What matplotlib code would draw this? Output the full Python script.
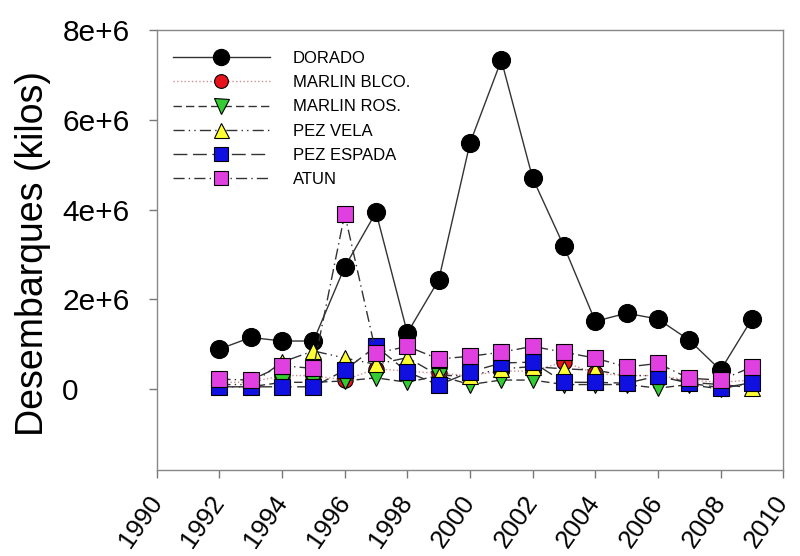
import matplotlib
matplotlib.use("Agg")
import matplotlib.pyplot as plt
import matplotlib.transforms as mtransforms

plt.rcParams['font.family'] = ['Liberation Sans', 'DejaVu Sans']

years = list(range(1992, 2010))
dorado = [0.89e6, 1.15e6, 1.07e6, 1.07e6, 2.72e6, 3.94e6, 1.25e6, 2.43e6, 5.48e6,
          7.33e6, 4.70e6, 3.18e6, 1.51e6, 1.69e6, 1.56e6, 1.09e6, 0.42e6, 1.56e6]
marlin_blco = [0.15e6, 0.15e6, 0.30e6, 0.30e6, 0.20e6, 0.45e6, 0.40e6, 0.35e6, 0.30e6,
               0.40e6, 0.40e6, 0.60e6, 0.35e6, 0.30e6, 0.30e6, 0.20e6, 0.15e6, 0.20e6]
marlin_ros = [0.05e6, 0.05e6, 0.15e6, 0.15e6, 0.18e6, 0.25e6, 0.15e6, 0.30e6, 0.10e6,
              0.20e6, 0.20e6, 0.10e6, 0.10e6, 0.10e6, 0.02e6, 0.10e6, 0.00e6, 0.15e6]
pez_vela = [0.10e6, 0.10e6, 0.60e6, 0.85e6, 0.69e6, 0.55e6, 0.70e6, 0.30e6, 0.30e6,
            0.45e6, 0.50e6, 0.45e6, 0.42e6, 0.30e6, 0.30e6, 0.15e6, 0.10e6, 0.03e6]
pez_espada = [0.05e6, 0.05e6, 0.05e6, 0.05e6, 0.42e6, 0.95e6, 0.38e6, 0.09e6, 0.38e6,
              0.58e6, 0.60e6, 0.15e6, 0.15e6, 0.13e6, 0.29e6, 0.13e6, 0.03e6, 0.13e6]
atun = [0.22e6, 0.20e6, 0.52e6, 0.46e6, 3.90e6, 0.80e6, 0.95e6, 0.67e6, 0.73e6,
        0.82e6, 0.95e6, 0.82e6, 0.69e6, 0.49e6, 0.57e6, 0.24e6, 0.20e6, 0.49e6]

labels = ['DORADO', 'MARLIN BLCO.', 'MARLIN ROS.', 'PEZ VELA', 'PEZ ESPADA', 'ATUN']
xticks = list(range(1990, 2011, 2))
yticks = [0, 2e6, 4e6, 6e6, 8e6]
yticklabels = ['0', '2e+6', '4e+6', '6e+6', '8e+6']

fig = plt.figure(figsize=(8, 5.56), dpi=100)
ax = fig.add_axes([0.196, 0.155, 0.783, 0.791])

series = [
    (dorado, 'o', 'black', '-', '#333333', 13),
    (marlin_blco, 'o', '#e8121a', ':', '#d09090', 11),
    (marlin_ros, 'v', '#33cc33', (0, (6, 3)), '#333333', 12),
    (pez_vela, '^', '#ffff33', (0, (8, 3, 1, 3, 1, 3)), '#333333', 12),
    (pez_espada, 's', '#1010e0', (0, (10, 4)), '#333333', 11),
    (atun, 's', '#e040e0', (0, (8, 3, 1, 3)), '#333333', 11),
]
for (vals, mk, fc, ls, lc, ms), lab in zip(series, labels):
    ax.plot(years, vals, linestyle=ls, color=lc, linewidth=1.0, marker=mk,
            markerfacecolor=fc, markeredgecolor='black', markeredgewidth=0.8,
            markersize=ms, label=lab)

ax.set_xlim(1990, 2010)
ax.set_ylim(-1.8e6, 8e6)
ax.set_xticks(xticks)
ax.set_xticklabels([str(x) for x in xticks], rotation=55, ha='right',
                   va='center', rotation_mode='anchor', fontsize=18.5)
offset = mtransforms.ScaledTranslation(3 / 100, 0, fig.dpi_scale_trans)
for lbl in ax.get_xticklabels():
    lbl.set_transform(lbl.get_transform() + offset)
ax.set_yticks(yticks)
ax.set_yticklabels(yticklabels, fontsize=21.5, ha='left')
ax.tick_params(axis='y', pad=62)
ax.tick_params(axis='x', pad=14)
ax.set_ylabel('Desembarques (kilos)', fontsize=27, va='center')
ax.yaxis.set_label_coords(-0.198, 0.493)
ax.tick_params(direction='out', length=6, color='#777777', width=1)
for s in ax.spines.values():
    s.set_color('#888888')
    s.set_linewidth(1)

leg = ax.legend(loc='upper left', bbox_to_anchor=(0.026, 0.952), frameon=False,
                fontsize=12, handlelength=5.8, handletextpad=1.4,
                labelspacing=0.55, markerscale=0.9, borderpad=0, borderaxespad=0)

fig.savefig('out.png', dpi=100)
